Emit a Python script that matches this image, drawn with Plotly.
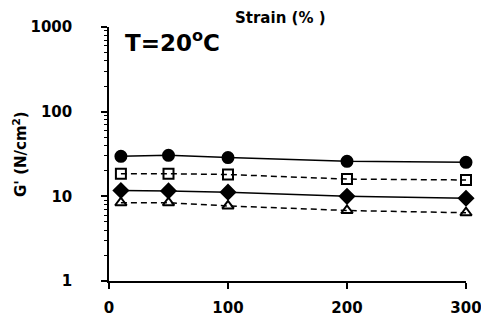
import plotly.graph_objects as go

strain = [10, 50, 100, 200, 300]
g_circle = [29.7, 30.5, 28.7, 25.9, 25.2]
g_square = [18.5, 18.5, 18.1, 16.0, 15.6]
g_diamond = [11.7, 11.6, 11.2, 10.0, 9.5]
g_triangle = [8.4, 8.4, 7.7, 6.8, 6.4]
x_ticks = [0, 100, 200, 300]
y_ticks = [1, 10, 100, 1000]
y_minor = [m * 10 ** d for d in range(3) for m in range(2, 10)]

FONT = "DejaVu Sans"
fig = go.Figure()

series = [
    (g_circle, "circle", 11, "solid"),
    (g_square, "square-open", 10, "6px,4px"),
    (g_diamond, "diamond", 11, "solid"),
    (g_triangle, "triangle-up-open", 10, "6px,4px"),
]
for vals, sym, size, dash in series:
    fig.add_trace(go.Scatter(
        x=strain, y=vals, mode="lines+markers",
        line=dict(color="black", width=1.5, dash=dash),
        marker=dict(symbol=sym, size=size, color="black",
                    line=dict(color="black", width=2)),
        showlegend=False,
        cliponaxis=False,
    ))

fig.update_layout(
    template="none",
    width=481, height=316,
    margin=dict(l=109, r=15, t=27, b=35, autoexpand=False),
    paper_bgcolor="white", plot_bgcolor="white",
    font=dict(family=FONT, color="black"),
    xaxis=dict(
        range=[0, 300], tickvals=x_ticks, ticktext=[str(v) for v in x_ticks],
        showgrid=False, zeroline=False, showline=True, linecolor="black", linewidth=1.5,
        ticks="outside", ticklen=6, tickwidth=1.5, tickcolor="black",
        tickfont=dict(family=FONT, size=15, weight="bold"),
        ticklabelstandoff=6, ticklabeloverflow="allow", automargin=False,
    ),
    yaxis=dict(
        type="log", range=[0, 3], tickvals=y_ticks, ticktext=[str(v) for v in y_ticks],
        showgrid=False, zeroline=False, showline=True, linecolor="black", linewidth=1.5,
        ticks="outside", ticklen=6, tickwidth=1.5, tickcolor="black",
        tickfont=dict(family=FONT, size=15, weight="bold"),
        ticklabelstandoff=26, automargin=False,
        minor=dict(tickvals=y_minor, ticks="outside", ticklen=3, tickwidth=1,
                   tickcolor="black", showgrid=False),
    ),
    annotations=[
        dict(text="Strain (% )", xref="paper", yref="paper", x=(280.5 - 109) / 357, y=1 + (27 - 18) / 254,
             showarrow=False, xanchor="center", yanchor="middle",
             font=dict(family=FONT, size=15, weight="bold")),
        dict(text="T=20<sup>o</sup>C", xref="paper", yref="paper", x=(123 - 109) / 357, y=1 - (40.5 - 27) / 254,
             showarrow=False, xanchor="left", yanchor="middle",
             font=dict(family=FONT, size=23, weight="bold")),
        dict(text="G' (N/cm<sup>2</sup>)", xref="paper", yref="paper", x=(20 - 109) / 357, y=0.5,
             showarrow=False, xanchor="center", yanchor="middle", textangle=-90,
             font=dict(family=FONT, size=15, weight="bold")),
    ],
)

fig.write_html(
    "out.html",
    config={"displayModeBar": False},
    post_script="document.body.style.margin='0';document.body.style.overflow='hidden';",
)
